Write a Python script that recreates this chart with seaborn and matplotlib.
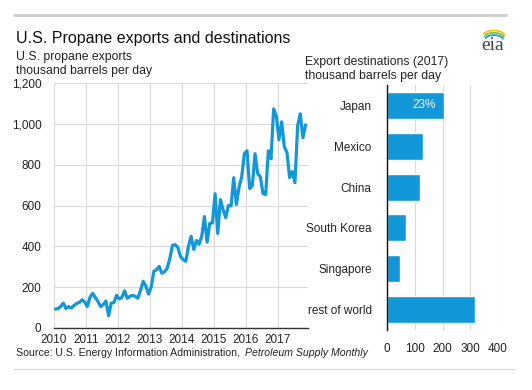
"""
plot.py
Exportaciones de propano de EE.UU. (mensual) y destinos en 2017.
"""

import matplotlib
import matplotlib.pyplot as plt
import numpy as np
import pandas as pd
import seaborn as sns

matplotlib.use("Agg")

# --- Datos ---
# Exportaciones mensuales, ene-2010 .. nov-2017 (miles de barriles/dia)
EXPORTS_2010 = [93, 95, 105, 122, 95, 105, 98, 110, 120, 125, 138, 128]
EXPORTS_2011 = [105, 150, 170, 150, 130, 105, 115, 132, 60, 122, 125, 160]
EXPORTS_2012 = [142, 150, 182, 146, 155, 160, 155, 146, 185, 229, 205, 166]
EXPORTS_2013 = [200, 278, 285, 302, 268, 275, 293, 340, 405, 408, 395, 351]
EXPORTS_2014 = [335, 327, 400, 449, 385, 429, 410, 450, 546, 420, 512, 515]
EXPORTS_2015 = [658, 463, 629, 580, 541, 600, 598, 736, 605, 690, 740, 854]
EXPORTS_2016 = [868, 683, 698, 854, 756, 741, 658, 654, 868, 829, 1073, 1039]
EXPORTS_2017 = [922, 1010, 888, 859, 737, 766, 712, 990, 1049, 932, 995]

YEARS = list(range(2010, 2018))
Y_TICKS = [0, 200, 400, 600, 800, 1000, 1200]

DESTINATIONS = ["Japan", "Mexico", "China", "South Korea", "Singapore", "rest of world"]
DEST_VALUES = [204, 129, 120, 67, 48, 317]
JAPAN_SHARE = "23%"
X_TICKS_DEST = [0, 100, 200, 300, 400]

BLUE = "#1297d8"
GRID = "#d9d9d9"
TEXT = "#222222"

monthly = (EXPORTS_2010 + EXPORTS_2011 + EXPORTS_2012 + EXPORTS_2013
           + EXPORTS_2014 + EXPORTS_2015 + EXPORTS_2016 + EXPORTS_2017)
df_line = pd.DataFrame({
    "fecha": [2010 + (i + 0.5) / 12 for i in range(len(monthly))],
    "exportaciones": monthly,
})
df_bar = pd.DataFrame({"destino": DESTINATIONS, "valor": DEST_VALUES})

sns.set_theme(style="whitegrid")
plt.rcParams["font.family"] = ["Liberation Sans", "DejaVu Sans"]
plt.rcParams.update({"grid.color": GRID, "grid.linewidth": 0.8,
                     "text.color": TEXT, "xtick.color": TEXT, "ytick.color": TEXT})

fig = plt.figure(figsize=(5.32, 3.90), dpi=100)
W, H = 532, 390


def box(x0, y0, x1, y1):
    """Pixeles (origen arriba-izquierda) -> rect de figura."""
    return [x0 / W, 1 - y1 / H, (x1 - x0) / W, (y1 - y0) / H]


# --- Grafico de lineas ---
ax1 = fig.add_axes(box(54, 83, 308, 328))
sns.lineplot(data=df_line, x="fecha", y="exportaciones", color=BLUE, linewidth=2.3, ax=ax1)
ax1.set_xlim(2010, 2017.95)
ax1.set_ylim(0, 1200)
ax1.set_xticks(YEARS)
ax1.set_xticklabels([str(y) for y in YEARS], fontsize=8.5)
ax1.set_yticks(Y_TICKS)
ax1.set_yticklabels([f"{v:,}" for v in Y_TICKS], fontsize=8.5)
ax1.set_xlabel("")
ax1.set_ylabel("")
ax1.tick_params(axis="both", length=0, pad=4)
ax1.tick_params(axis="y", pad=9)
for side in ["top", "right", "left"]:
    ax1.spines[side].set_visible(False)
ax1.spines["bottom"].set_color("#333333")
ax1.spines["bottom"].set_linewidth(1.0)
ax1.grid(True, color=GRID)

# --- Grafico de barras ---
ax2 = fig.add_axes(box(387, 85, 498, 330))
sns.barplot(data=df_bar, x="valor", y="destino", color=BLUE, width=0.66,
            saturation=1, ax=ax2)
ax2.set_xlim(0, 400)
ax2.set_xticks(X_TICKS_DEST)
ax2.set_xticklabels([str(v) for v in X_TICKS_DEST], fontsize=8.5)
ax2.tick_params(axis="x", length=0, pad=9)
ax2.tick_params(axis="y", length=0, pad=11, labelsize=8.5)
ax2.set_xlabel("")
ax2.set_ylabel("")
for side in ["top", "right", "bottom"]:
    ax2.spines[side].set_visible(False)
ax2.spines["left"].set_color("#111111")
ax2.spines["left"].set_linewidth(1.0)
ax2.grid(True, axis="x", color=GRID)
ax2.grid(False, axis="y")
ax2.text(DEST_VALUES[0] - 28, 0, JAPAN_SHARE, color="white", fontsize=8.5,
         ha="right", va="center")

# --- Textos ---
fig.text(16 / W, 1 - 38 / H, "U.S. Propane exports and destinations",
         fontsize=11.5, va="center", color="#111111")
fig.text(16 / W, 1 - 57 / H, "U.S. propane exports", fontsize=8.8, va="center")
fig.text(16 / W, 1 - 71 / H, "thousand barrels per day", fontsize=8.8, va="center")
fig.text(305 / W, 1 - 62 / H, "Export destinations (2017)", fontsize=8.8, va="center")
fig.text(305 / W, 1 - 76 / H, "thousand barrels per day", fontsize=8.8, va="center")

# Fuente: el titulo de la publicacion va en cursiva justo despues
src = fig.text(16 / W, 1 - 353 / H,
               "Source: U.S. Energy Information Administration, ",
               fontsize=7.6, va="center")
fig.canvas.draw()
bb = src.get_window_extent().transformed(fig.transFigure.inverted())
fig.text(bb.x1 + 2 / W, 1 - 353 / H, "Petroleum Supply Monthly", fontsize=7.6,
         style="italic", va="center")

# Lineas grises de marco
fig.add_artist(plt.Line2D([14 / W, 506 / W], [1 - 15 / H, 1 - 15 / H],
                          color="#cccccc", linewidth=2))
fig.add_artist(plt.Line2D([14 / W, 515 / W], [1 - 369 / H, 1 - 369 / H],
                          color="#dddddd", linewidth=1))

# Logo eia
fig.text(493 / W, 1 - 46 / H, "eia", fontsize=14, family="Liberation Serif",
         ha="center", va="center", color="#444444")
t = np.linspace(np.radians(160), np.radians(10), 30)
for r, dy, col in [(11, 0, "#f2c500"), (10, 1.8, "#7dbd3b"), (9, 3.6, "#1297d8")]:
    xs = 494 + r * np.cos(t)
    ys = 36 + dy - (r * 0.5) * np.sin(t)
    fig.add_artist(plt.Line2D(xs / W, 1 - ys / H, color=col, linewidth=1.2))

fig.savefig("out.png", dpi=100, facecolor="white")
plt.close(fig)
